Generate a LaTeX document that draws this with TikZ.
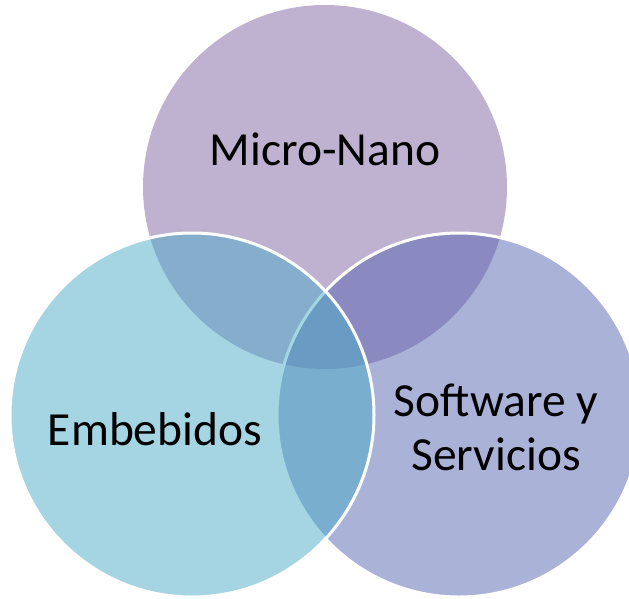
\documentclass[tikz,border=0pt]{standalone}
\usepackage{fontspec}
\setmainfont{Carlito}
\usetikzlibrary{positioning}
\definecolor{micropurple}{HTML}{8064A2}
\definecolor{softblue}{RGB}{87,101,177}
\definecolor{embeblue}{HTML}{4BACC6}

\begin{document}
\begin{tikzpicture}[%
    x=1pt, y=-1pt,
    setnode/.style={circle, minimum size=364pt, inner sep=0pt, outer sep=0pt, fill opacity=0.5},
    rimnode/.style={setnode, draw=white, line width=3pt},
    setlabel/.style={align=center, anchor=base, text=black, font=\fontsize{47.5}{54}\selectfont},
]
\useasboundingbox (0,0) rectangle (629,598);
\clip (0,0) rectangle (629,598);

% circles
\node[setnode, fill=micropurple] (micro)    at (325,187) {};
\node[rimnode, fill=softblue]    (software) at (459,415) {};
\node[rimnode, fill=embeblue]    (embebido) at (192,415) {};

% labels
\node[setlabel] (microtext)    at ([yshift=22pt]micro.center) {Micro-Nano};
\node[setlabel] (softwaretext) at ([xshift=37pt,yshift=-55pt]software.center) {Software y\\Servicios};
\node[setlabel] (embebidotext) at ([xshift=-37pt,yshift=-30pt]embebido.center) {Embebidos};

\end{tikzpicture}
\end{document}
